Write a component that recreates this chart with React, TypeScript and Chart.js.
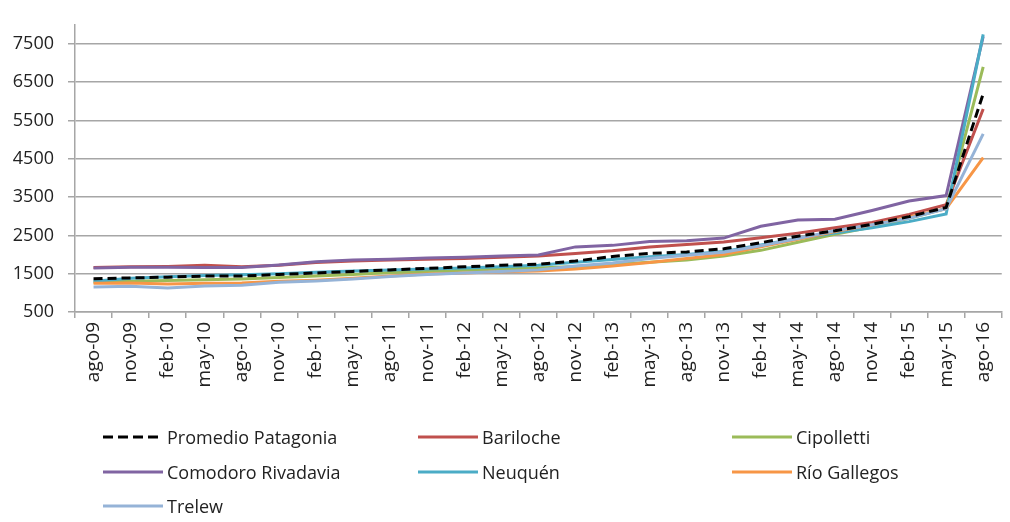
import { useEffect, useRef } from "react";
import { Chart, registerables } from "chart.js";

Chart.register(...registerables);

const categories = [
  "ago-09", "nov-09", "feb-10", "may-10", "ago-10", "nov-10", "feb-11", "may-11",
  "ago-11", "nov-11", "feb-12", "may-12", "ago-12", "nov-12", "feb-13", "may-13",
  "ago-13", "nov-13", "feb-14", "may-14", "ago-14", "nov-14", "feb-15", "may-15", "ago-16",
];

const promedio = [1370, 1390, 1410, 1440, 1440, 1480, 1520, 1560, 1600, 1640, 1680, 1720, 1750, 1830, 1950, 2030, 2070, 2150, 2310, 2480, 2620, 2790, 2990, 3230, 6200];
const bariloche = [1660, 1680, 1690, 1720, 1680, 1720, 1790, 1830, 1860, 1880, 1900, 1930, 1960, 2030, 2100, 2200, 2260, 2330, 2440, 2560, 2700, 2840, 3050, 3300, 5800];
const cipolletti = [1280, 1300, 1320, 1340, 1360, 1400, 1440, 1480, 1530, 1560, 1590, 1620, 1650, 1690, 1740, 1800, 1860, 1960, 2110, 2320, 2530, 2720, 2950, 3200, 6900];
const comodoro = [1650, 1670, 1670, 1660, 1660, 1730, 1810, 1860, 1880, 1910, 1930, 1960, 1990, 2200, 2240, 2340, 2360, 2430, 2740, 2900, 2920, 3150, 3400, 3540, 7700];
const neuquen = [1300, 1380, 1420, 1450, 1470, 1500, 1540, 1570, 1600, 1620, 1650, 1680, 1720, 1800, 1870, 1940, 2000, 2080, 2250, 2420, 2560, 2700, 2860, 3060, 7750];
const rioGallegos = [1250, 1260, 1230, 1250, 1260, 1300, 1330, 1380, 1440, 1490, 1520, 1550, 1570, 1620, 1700, 1790, 1900, 2000, 2200, 2400, 2600, 2780, 2980, 3200, 4530];
const trelew = [1150, 1170, 1130, 1180, 1200, 1280, 1310, 1360, 1430, 1480, 1520, 1560, 1600, 1700, 1780, 1900, 1980, 2060, 2230, 2420, 2620, 2780, 2950, 3200, 5150];

const seriesNames = ["Promedio Patagonia", "Bariloche", "Cipolletti", "Comodoro Rivadavia", "Neuquén", "Río Gallegos", "Trelew"];
const seriesValues = [promedio, bariloche, cipolletti, comodoro, neuquen, rioGallegos, trelew];
const seriesColors = ["#000000", "#c0504d", "#9bbb59", "#8064a2", "#4bacc6", "#f79646", "#95b3d7"];

const yMin = 500;
const yMax = 8000;
const yTickValues = [500, 1500, 2500, 3500, 4500, 5500, 6500, 7500];

const FONT = "'Open Sans', 'DejaVu Sans', sans-serif";
const GRID = "#a6a6a6";

export default function App() {
  const ref = useRef<HTMLCanvasElement>(null);

  useEffect(() => {
    const chart = new Chart(ref.current!, {
      type: "line",
      data: {
        labels: categories,
        datasets: seriesNames.map((name, i) => ({
          label: name,
          data: seriesValues[i],
          borderColor: seriesColors[i],
          backgroundColor: seriesColors[i],
          borderWidth: 3,
          borderDash: i === 0 ? [9, 5] : [],
          pointRadius: 0,
          tension: 0,
          fill: false,
          order: i === 0 ? 0 : 7 - i,
        })),
      },
      options: {
        animation: false,
        responsive: false,
        layout: { padding: { left: 0, right: 0, top: 8, bottom: 110 } },
        plugins: { legend: { display: false }, tooltip: { enabled: false } },
        scales: {
          x: {
            offset: true,
            grid: { offset: true, drawOnChartArea: false, drawTicks: true, tickLength: 6, color: GRID, lineWidth: 1.5 },
            border: { color: GRID, width: 1.5 },
            ticks: {
              autoSkip: false,
              minRotation: 90,
              maxRotation: 90,
              padding: 4,
              color: "#222",
              font: { family: FONT, size: 19 },
            },
            afterFit: (s: any) => { s.height = 100; },
          },
          y: {
            min: yMin,
            max: yMax,
            grid: { color: GRID, lineWidth: 1.5, tickLength: 7 },
            border: { color: GRID, width: 1.5 },
            ticks: {
              padding: 14,
              color: "#222",
              font: { family: FONT, size: 18 },
              callback: (v: any) => String(v),
            },
            afterBuildTicks: (s: any) => { s.ticks = yTickValues.map((v) => ({ value: v })); },
            afterFit: (s: any) => { s.width = 75; },
          },
        },
      },
    });
    return () => chart.destroy();
  }, []);

  const colLeft = [103, 418, 732];
  const rowTop = [437, 472, 506];

  return (
    <div style={{ position: "absolute", left: 0, top: 0, width: 1010, height: 522, background: "#fff", overflow: "hidden" }}>
      <canvas ref={ref} width={1010} height={522} style={{ position: "absolute", left: 0, top: 0 }} />
      {seriesNames.map((name, i) => (
        <div
          key={name}
          style={{
            position: "absolute",
            left: colLeft[i % 3],
            top: rowTop[Math.floor(i / 3)] - 13,
            height: 26,
            display: "flex",
            alignItems: "center",
            fontFamily: FONT,
            fontSize: 18,
            color: "#222",
            whiteSpace: "nowrap",
          }}
        >
          <svg width={60} height={6} style={{ marginRight: 4 }}>
            <line x1={0} y1={3} x2={60} y2={3} stroke={seriesColors[i]} strokeWidth={3} strokeDasharray={i === 0 ? "10 5" : undefined} />
          </svg>
          <span>{name}</span>
        </div>
      ))}
    </div>
  );
}
